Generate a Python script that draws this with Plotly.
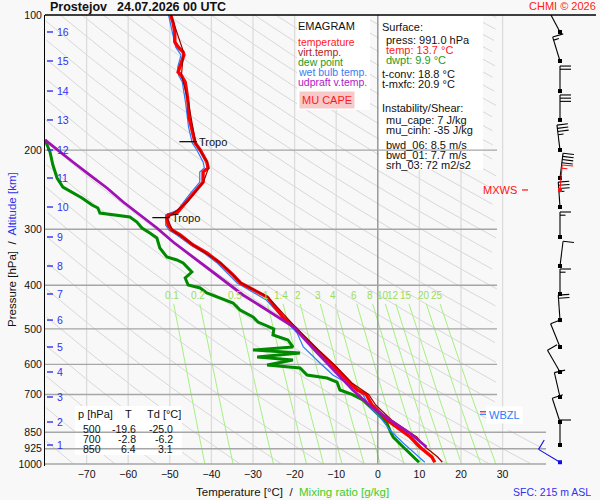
import numpy as np
import plotly.graph_objects as go

# Sounding Prostejov 24.07.2026 00 UTC (hPa / degC)
temp_p = [100, 104.2, 109.1, 114.9, 117.8, 120.9, 122.8, 130.6, 134.0, 136.0, 141.0, 149.2,
          157.0, 168.7, 177.6, 186.9, 192.8, 199.8, 207.1, 212.5, 219.1, 223.7, 235.5, 242.8,
          251.7, 260.9, 271.8, 276.1, 278.9, 283.2, 293.6, 301.2, 309.0, 325.3, 338.9, 356.7,
          379.4, 395.3, 424.7, 470.5, 500, 510.8, 557.3, 601.9, 660.1, 684.3, 700, 738.9,
          797.9, 850, 870.7, 916.6, 945.3, 964.9, 991]
temp_T = [-49.8, -49.2, -48.8, -48.8, -48.0, -46.8, -46.6, -47.5, -48.0, -47.3, -46.3, -45.9,
          -45.6, -45.4, -44.9, -44.4, -43.9, -42.7, -41.8, -41.1, -40.8, -42.0, -42.0, -43.2,
          -44.7, -45.9, -47.5, -48.3, -50.4, -50.7, -50.4, -49.5, -47.5, -44.4, -41.1, -37.9,
          -34.8, -33.0, -26.6, -22.8, -19.6, -18.7, -14.6, -10.8, -6.7, -4.9, -2.8, -1.4,
          2.2, 6.4, 7.8, 10.1, 11.8, 13.0, 13.7]

virt_p = [100, 120.9, 136.0, 157.0, 192.8, 212.5, 219.1, 235.5, 260.9, 283.2, 301.2, 325.3,
          356.7, 395.3, 424.7, 500, 557.3, 601.9, 660.1, 700, 738.9, 797.9, 850, 870.7,
          916.6, 945.3, 964.9, 991]
virt_T = [-49.7, -46.7, -47.2, -45.5, -43.8, -41.0, -40.7, -41.9, -45.8, -50.6, -49.4, -44.3,
          -37.8, -32.8, -26.4, -19.4, -14.3, -10.4, -6.2, -2.2, -0.5, 3.3, 7.6, 9.4,
          11.4, 13.2, 14.4, 15.5]

dew_p = [189.8, 201.9, 215.8, 230.7, 241.6, 249.1, 255.6, 264.9, 269.0, 276.1, 278.9, 281.8,
         289.1, 298.1, 305.8, 313.8, 330.3, 345.9, 351.3, 356.7, 373.6, 385.2, 399.3, 405.5,
         416.1, 424.7, 437.9, 453.9, 470.5, 482.8, 495.3, 500, 516.0, 529.4, 548.8, 557.3,
         566.0, 577.7, 586.7, 601.9, 611.3, 633.6, 643.4, 656.8, 684.3, 700, 720.3, 746.6,
         769.9, 810.4, 850, 870.7, 916.6, 964.9, 991]
dew_T = [-80.0, -78.8, -78.1, -77.1, -75.7, -73.3, -71.1, -68.7, -67.3, -66.8, -62.7, -59.6,
         -57.9, -56.7, -54.8, -53.1, -52.4, -50.7, -48.3, -46.8, -44.7, -46.3, -45.6, -42.7,
         -41.1, -38.7, -34.8, -33.1, -30.0, -28.8, -25.9, -25.0, -25.2, -21.6, -20.4, -30.0,
         -18.7, -29.0, -20.4, -26.6, -18.7, -17.0, -12.2, -9.8, -9.1, -6.2, -3.6, -1.9,
         -0.2, 2.2, 3.1, 3.7, 6.1, 8.5, 9.9]

wetb_p = [100, 109.1, 117.8, 122.8, 130.6, 136.0, 141.0, 157.0, 177.6, 192.8, 199.8, 212.5,
          219.1, 223.7, 235.5, 251.7, 271.8, 278.9, 293.6, 301.2, 309.0, 325.3, 338.9, 356.7,
          379.4, 395.3, 431.2, 478.0, 510.8, 548.8, 566.0, 595.8, 633.6, 660.1, 694.8, 746.6,
          785.7, 840.0, 897.8, 955.0, 991]
wetb_T = [-50.3, -49.4, -48.6, -47.3, -48.1, -47.9, -47.0, -46.2, -45.5, -44.6, -43.5, -42.0,
          -41.7, -42.8, -42.8, -45.4, -48.1, -51.0, -51.0, -50.2, -48.3, -45.0, -41.8, -38.6,
          -35.6, -33.8, -26.8, -22.3, -19.4, -17.9, -16.3, -13.9, -10.8, -7.4, -3.8, -1.9,
          0.5, 2.9, 6.1, 9.4, 11.3]

updr_p = [189.8, 201.9, 212.5, 227.2, 242.8, 260.9, 278.9, 298.1, 320.3, 342.4, 366.0, 393.2,
          420.3, 447.0, 494.6, 557.3, 617.6, 684.3, 746.6, 797.9, 853.1, 916.6]
updr_T = [-80.0, -76.4, -73.3, -69.2, -65.1, -61.2, -57.2, -53.1, -49.2, -45.1, -41.0, -36.6,
          -32.4, -27.8, -20.3, -15.2, -10.7, -6.0, -1.5, 2.9, 7.7, 11.7]

# altitude marks (km) and the pressure where each sits
alt_km = [16, 15, 14, 13, 12, 11, 10, 9, 8, 7, 6, 5, 4, 3, 2, 1]
alt_p = [109.1, 126.6, 147.7, 171.3, 199.8, 230.7, 267.7, 312.2, 362.3, 418.2, 478.0, 548.8,
         623.8, 709.2, 806.3, 907.2]

# winds at the altitude marks: direction (deg) and speed (kt)
wind_dir = [332, 343, 0, 0, 353, 7, 356, 0, 7, 0, 356, 338, 330, 347, 342, 0]
wind_spd = [10, 15, 20, 30, 35, 40, 35, 15, 10, 15, 20, 10, 10, 10, 10, 10]
sfc_p, sfc_dir, sfc_spd = 991.0, 301, 10
mxws_p, mxws_dir, mxws_spd = 245.3, 5, 15

tropo_p = [191.5, 282.7]
tropo_T = [-45.6, -52.1]
wbzl_p = 775.0
frz_p = 765.0

table_p = [500, 700, 850]
table_T = [-19.6, -2.8, 6.4]
table_Td = [-25.0, -6.2, 3.1]

mix_ratios = [0.1, 0.2, 0.5, 1, 1.4, 2, 3, 4, 6, 8, 10, 12, 15, 20, 25]
p_levels = [200, 300, 400, 500, 600, 700, 850, 925, 1000]
p_ticks = [100, 200, 300, 400, 500, 600, 700, 850, 925, 1000]
t_ticks = list(range(-70, 31, 10))
theta_K = list(range(200, 581, 10))

# ---- page geometry (pixels) ----
W, H = 600, 500
PL, PR, PT, PB = 45, 600, 15, 466
T_MIN = -80.0
PX_C = 4.16                  # px per degC
PX_DEC = 449.0               # px per decade of pressure
T_MAX = T_MIN + (PR - PL) / PX_C
LOGP_BOT = 2 + (PB - PT) / PX_DEC


def tx(px):
    return T_MIN + (px - PL) / PX_C


def pp(py):
    return 10 ** (2 + (py - PT) / PX_DEC)


T_EDGE_UP = tx(497)
T_EDGE_LOW = tx(546)
BARB_T = tx(560)
FONT = "Liberation Sans, Arial, sans-serif"


def t_edge(p):
    return np.where(p >= 835, T_EDGE_LOW, T_EDGE_UP)


def clipped(T, p):
    T = np.asarray(T, float)
    ok = (T >= T_MIN) & (T <= t_edge(p))
    return [t if k else None for t, k in zip(T, ok)]


def w_to_T(w, p):
    e = w * p / (622.0 + w)
    lnr = np.log(e / 6.112)
    return 243.5 * lnr / (17.67 - lnr)


def joined(lines):
    xs, ys = [], []
    for x, y in lines:
        xs += list(x) + [None]
        ys += list(y) + [None]
    return xs, ys


fig = go.Figure()

# dry adiabats
pgrid = np.geomspace(100, 1000, 160)
ad = [(clipped(th * (pgrid / 1000) ** 0.2857 - 273.15, pgrid), pgrid) for th in theta_K]
x, y = joined(ad)
fig.add_trace(go.Scatter(x=x, y=y, mode="lines", line=dict(color="#d4d4d4", width=0.9),
                         hoverinfo="skip", connectgaps=False))

# mixing ratio lines
pmix = np.geomspace(440, 1000, 30)
x, y = joined([(clipped(w_to_T(w, pmix), pmix), pmix) for w in mix_ratios])
fig.add_trace(go.Scatter(x=x, y=y, mode="lines", line=dict(color="#a6f080", width=1),
                         hoverinfo="skip", connectgaps=False))

# vertical temperature grid
x, y = joined([([t, t], [100, 1000]) for t in t_ticks if t != 0])
fig.add_trace(go.Scatter(x=x, y=y, mode="lines", line=dict(color="#dcdcdc", width=1.3),
                         hoverinfo="skip"))
fig.add_trace(go.Scatter(x=[0, 0], y=[100, 1000], mode="lines",
                         line=dict(color="#8c8c8c", width=1.3), hoverinfo="skip"))

# white panels hiding the background lines
for x0, y0, x1, y1 in [(297, 15, 370, 110), (379, 15, 483, 170), (75, 406, 182, 455)]:
    fig.add_trace(go.Scatter(x=[tx(x0), tx(x1), tx(x1), tx(x0), tx(x0)],
                             y=[pp(y0), pp(y0), pp(y1), pp(y1), pp(y0)],
                             mode="lines", fill="toself", fillcolor="white",
                             line=dict(width=0), hoverinfo="skip"))

# horizontal pressure grid
x, y = joined([([T_MIN, float(t_edge(p))], [p, p]) for p in p_levels])
fig.add_trace(go.Scatter(x=x, y=y, mode="lines", line=dict(color="#a6a6a6", width=1.4),
                         hoverinfo="skip"))

# profiles
fig.add_trace(go.Scatter(x=dew_T, y=dew_p, mode="lines", line=dict(color="#008a00", width=3)))
fig.add_trace(go.Scatter(x=wetb_T, y=wetb_p, mode="lines", line=dict(color="#2a7bff", width=1.2)))
fig.add_trace(go.Scatter(x=temp_T, y=temp_p, mode="lines", line=dict(color="#ff0000", width=3.4)))
fig.add_trace(go.Scatter(x=virt_T, y=virt_p, mode="lines", line=dict(color="#a00000", width=1.2)))
fig.add_trace(go.Scatter(x=updr_T, y=updr_p, mode="lines", line=dict(color="#a010b4", width=2.8)))

# tropopause marks
x, y = joined([([t - 2.1, t + 2.1], [p, p]) for t, p in zip(tropo_T, tropo_p)])
fig.add_trace(go.Scatter(x=x, y=y, mode="lines", line=dict(color="black", width=1.2)))
for t, p in zip(tropo_T, tropo_p):
    fig.add_annotation(text="Tropo", x=t + 2.2, y=np.log10(p), xanchor="left",
                       showarrow=False, font=dict(size=11, color="#111"))

# altitude scale
x, y = joined([([tx(47), tx(53)], [p, p]) for p in alt_p])
fig.add_trace(go.Scatter(x=x, y=y, mode="lines", line=dict(color="#3030f0", width=1.4)))
for km, p in zip(alt_km, alt_p):
    fig.add_annotation(text=str(km), x=tx(55), y=np.log10(p), xanchor="left",
                       showarrow=False, font=dict(size=10.5, color="#3030f0"))

# mixing ratio labels
for w in mix_ratios:
    fig.add_annotation(text=f"{w:g}", x=float(w_to_T(w, 421.0)), y=np.log10(421.0),
                       showarrow=False, font=dict(size=10, color="#9bdc5a"))

# wind barbs
STAFF, FEATHER, GAP = 25, 11, 3.2


def barb(p0, wdir, wspd):
    a = np.radians(wdir)
    ux, uy = np.sin(a), -np.cos(a)
    fx, fy = -uy, ux
    segs = [[(0, 0), (ux * STAFF, uy * STAFF)]]
    full, rest = divmod(int(round(wspd)), 10)
    lens = [FEATHER] * full + ([FEATHER / 2] if rest >= 5 else [])
    for i, ln in enumerate(lens):
        d = STAFF - i * GAP
        segs.append([(ux * d, uy * d), (ux * d + fx * ln, uy * d + fy * ln)])
    xs, ys = [], []
    for seg in segs:
        for dx, dy in seg:
            xs.append(BARB_T + dx / PX_C)
            ys.append(p0 * 10 ** (dy / PX_DEC))
        xs.append(None)
        ys.append(None)
    return xs, ys


bx, by = [], []
for p, d, s in zip(alt_p, wind_dir, wind_spd):
    xs, ys = barb(p, d, s)
    bx += xs
    by += ys
fig.add_trace(go.Scatter(x=bx, y=by, mode="lines", line=dict(color="black", width=1.1)))
fig.add_trace(go.Scatter(x=[BARB_T] * len(alt_p), y=alt_p, mode="markers",
                         marker=dict(symbol="square", size=4, color="black")))
xs, ys = barb(sfc_p, sfc_dir, sfc_spd)
fig.add_trace(go.Scatter(x=xs, y=ys, mode="lines", line=dict(color="#1010e0", width=1.1)))
fig.add_trace(go.Scatter(x=[BARB_T], y=[sfc_p], mode="markers",
                         marker=dict(symbol="square", size=4, color="#1010e0")))
xs, ys = barb(mxws_p, mxws_dir, mxws_spd)
fig.add_trace(go.Scatter(x=xs, y=ys, mode="lines", line=dict(color="#ff1010", width=1.1)))
fig.add_trace(go.Scatter(x=[BARB_T], y=[mxws_p], mode="markers",
                         marker=dict(symbol="square", size=4, color="#ff1010")))

# MXWS and WBZL markers
fig.add_trace(go.Scatter(x=[tx(522), tx(528)], y=[mxws_p, mxws_p], mode="lines",
                         line=dict(color="#ff1010", width=1.2)))
fig.add_annotation(text="MXWS", x=tx(519), y=np.log10(mxws_p), xanchor="right",
                   showarrow=False, font=dict(size=11, color="#ff1010"))
fig.add_annotation(text="WBZL", x=tx(486), y=np.log10(wbzl_p + 3), xanchor="left",
                   showarrow=False, bgcolor="white", borderpad=2,
                   font=dict(size=11, color="#2a7bff"))
fig.add_trace(go.Scatter(x=[tx(480), tx(486)], y=[wbzl_p, wbzl_p], mode="lines",
                         line=dict(color="#2a7bff", width=1.2)))
fig.add_trace(go.Scatter(x=[tx(480), tx(486)], y=[frz_p, frz_p], mode="lines",
                         line=dict(color="#ff1010", width=1.2)))

# top frame line
fig.add_shape(type="line", xref="paper", yref="paper", x0=PL / W, x1=596 / W,
              y0=1 - PT / H, y1=1 - PT / H, line=dict(color="black", width=1.5))


def note(text, px, py, color="#111", size=10.5, xanchor="left", borderpad=0, **kw):
    fig.add_annotation(text=text, x=px / W, y=1 - py / H, xref="paper", yref="paper",
                       showarrow=False, xanchor=xanchor, yanchor="middle",
                       borderpad=borderpad, font=dict(color=color, size=size), **kw)


note("<b>Prostejov</b>", 49, 7, size=12.5)
note("<b>24.07.2026 00 UTC</b>", 116, 7, size=12.5)
note("CHMI © 2026", 597, 6, color="#ff1a1a", size=11, xanchor="right")

# legend panel
note("EMAGRAM", 297, 26, size=11)
for i, (lab, col) in enumerate([("temperature", "#ff1a1a"), ("virt.temp.", "#b01c1c"),
                                ("dew point", "#1e9a1e"), ("wet bulb temp.", "#3a7cf0"),
                                ("udpraft v.temp.", "#b020c8")]):
    note(lab, 297, 42 + 10 * i, color=col, size=10.5)
note("MU CAPE", 327, 100, color="#ff1a1a", size=11, xanchor="center",
     bgcolor="#f7c9c9", borderpad=2)

# surface / instability panel
info = [("Surface:", 381, 27, "#111"), ("press: 991.0 hPa", 385, 40, "#111"),
        ("temp: 13.7 °C", 385, 50, "#ff1a1a"), ("dwpt: 9.9 °C", 385, 60, "#1e9a1e"),
        ("t-conv: 18.8 °C", 381, 74, "#111"), ("t-mxfc: 20.9 °C", 381, 84, "#111"),
        ("Instability/Shear:", 381, 108, "#111"), ("mu_cape: 7 J/kg", 385, 120, "#111"),
        ("mu_cinh: -35 J/kg", 385, 130, "#111"), ("bwd_06: 8.5 m/s", 385, 145, "#111"),
        ("bwd_01: 7.7 m/s", 385, 155, "#111"), ("srh_03: 72 m2/s2", 385, 165, "#111")]
for text, px, py, col in info:
    note(text, px, py, color=col, size=11)

# p / T / Td table
note("p [hPa]", 77, 414, size=11)
note("T", 128, 414, xanchor="center", size=11)
note("Td [°C]", 146, 414, size=11)
for i, (p, t, td) in enumerate(zip(table_p, table_T, table_Td)):
    yy = 428.5 + 10 * i
    note(str(p), 102, yy, xanchor="right", size=10.5)
    note(f"{t:.1f}", 137, yy, xanchor="right", size=10.5)
    note(f"{td:.1f}", 174, yy, xanchor="right", size=10.5)

# axis titles
note("Temperature [°C]  /  <span style='color:#44cc22'>Mixing ratio [g/kg]</span>",
     292, 492, size=11.5, xanchor="center")
note("Pressure [hPa]  /  <span style='color:#3030f0'>Altitude [km]</span>",
     12, 250, size=11.5, xanchor="center", textangle=-90)
note("SFC: 215 m ASL", 512, 492, color="#3030f0", size=10.5)

fig.update_layout(
    width=W, height=H, autosize=False, showlegend=False,
    margin=dict(l=0, r=0, t=0, b=0, pad=0),
    paper_bgcolor="#f8f8f8", plot_bgcolor="#f8f8f8",
    font=dict(family=FONT, color="#111"),
    xaxis=dict(domain=[PL / W, PR / W], range=[T_MIN, T_MAX], tickvals=t_ticks,
               showgrid=False, zeroline=False, ticks="", automargin=False,
               tickfont=dict(size=10.5)),
    yaxis=dict(type="log", domain=[1 - PB / H, 1 - PT / H], range=[LOGP_BOT, 2],
               tickvals=p_ticks, ticktext=[str(p) for p in p_ticks], showgrid=False,
               zeroline=False, ticks="", showline=True, linecolor="black", linewidth=1,
               automargin=False, tickfont=dict(size=10.5)),
)

fig.write_html("out.html", config={"displayModeBar": False},
               post_script="document.body.style.margin='0';")
